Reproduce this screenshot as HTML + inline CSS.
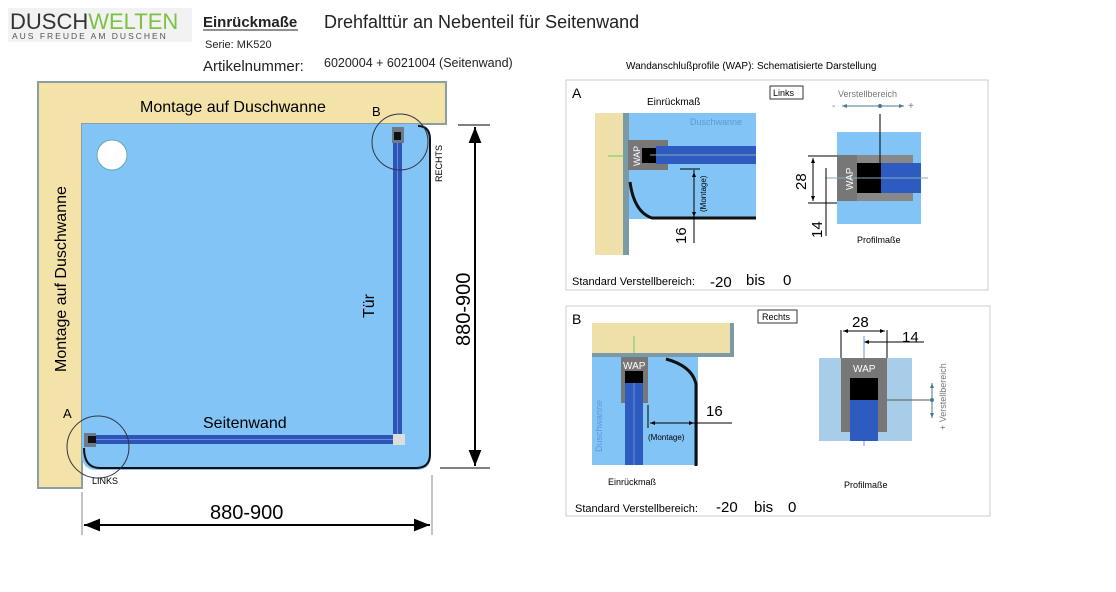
<!DOCTYPE html>
<html><head><meta charset="utf-8"><style>
body{margin:0;background:#fff;width:1116px;height:592px;overflow:hidden}
svg{display:block}
text{font-family:"Liberation Sans",sans-serif}
</style></head><body>
<svg width="1116" height="592" viewBox="0 0 1116 592">
<defs>
<marker id="ar" viewBox="0 0 10 10" refX="10" refY="5" markerWidth="10" markerHeight="8" orient="auto-start-reverse"><path d="M0,1 L10,5 L0,9 z" fill="#000"/></marker>
<marker id="as" viewBox="0 0 10 10" refX="10" refY="5" markerWidth="5" markerHeight="5" orient="auto-start-reverse"><path d="M0,1 L10,5 L0,9 z" fill="#000"/></marker>
<marker id="ag" viewBox="0 0 10 10" refX="10" refY="5" markerWidth="5" markerHeight="5" orient="auto-start-reverse"><path d="M0,1 L10,5 L0,9 z" fill="#4a7a90"/></marker>
</defs>
<!-- header -->
<rect x="8" y="8" width="184" height="34" fill="#f2f2f2"/>
<text x="10" y="29" font-size="22" fill="#333">DUSCH<tspan fill="#7cc242">WELTEN</tspan></text>
<text x="12" y="39" font-size="8.5" fill="#555" letter-spacing="2">AUS FREUDE AM DUSCHEN</text>
<text x="203" y="27" font-size="15" font-weight="bold" fill="#222">Einrückmaße</text>
<line x1="203" y1="30" x2="298" y2="30" stroke="#222"/>
<text x="324" y="28" font-size="18" fill="#222">Drehfalttür an Nebenteil für Seitenwand</text>
<text x="205" y="48" font-size="11" fill="#222">Serie: MK520</text>
<text x="203" y="71" font-size="15" fill="#222">Artikelnummer:</text>
<text x="324" y="67" font-size="12.5" fill="#222">6020004 + 6021004 (Seitenwand)</text>
<!-- wall -->
<path d="M38,82 H446 V124 H82 V488 H38 Z" fill="#f3e3a9" stroke="#8aa0a0" stroke-width="2"/>
<!-- tray -->
<path d="M82,124 H416 Q431,124 431,139 V455 Q431,470 416,470 H97 Q82,470 82,455 Z" fill="#82c4f6"/>
<path d="M84,448 Q84,468 100,468 H416 Q430,468 430,454 V140 Q430,126 418,126" fill="none" stroke="#111" stroke-width="2"/>
<circle cx="112" cy="155" r="15" fill="#fff" stroke="#6aa" />
<!-- profiles -->
<rect x="392" y="127" width="12" height="16" fill="#6d7a88"/>
<rect x="394" y="132" width="7" height="8" fill="#111"/>
<rect x="393" y="143" width="9" height="296" fill="#2d55b8"/>
<line x1="397.5" y1="143" x2="397.5" y2="438" stroke="#6a8fd8"/>
<rect x="84" y="433" width="12" height="14" fill="#6d7a88"/>
<rect x="88" y="436" width="8" height="7" fill="#111"/>
<rect x="96" y="435" width="298" height="9" fill="#2d55b8"/>
<line x1="96" y1="439.5" x2="394" y2="439.5" stroke="#6a8fd8"/>
<rect x="393" y="434" width="12" height="11" fill="#ddd"/>
<circle cx="98" cy="447" r="31" fill="none" stroke="#334" stroke-width="1"/>
<circle cx="400" cy="142" r="28" fill="none" stroke="#334" stroke-width="1"/>
<text x="63" y="418" font-size="13">A</text>
<text x="372" y="116" font-size="13">B</text>
<text x="92" y="484" font-size="9">LINKS</text>
<text transform="translate(442,182) rotate(-90)" font-size="9">RECHTS</text>
<text x="140" y="112" font-size="16">Montage auf Duschwanne</text>
<text transform="translate(66,372) rotate(-90)" font-size="16">Montage auf Duschwanne</text>
<text transform="translate(374,318) rotate(-90)" font-size="16">Tür</text>
<text x="203" y="428" font-size="16">Seitenwand</text>
<!-- dims -->
<line x1="458" y1="125" x2="490" y2="125" stroke="#000"/>
<line x1="440" y1="468" x2="490" y2="468" stroke="#000"/>
<line x1="475" y1="127" x2="475" y2="466" stroke="#000" stroke-width="2" marker-start="url(#ar)" marker-end="url(#ar)"/>
<text transform="translate(470,346) rotate(-90)" font-size="20">880-900</text>
<line x1="82" y1="492" x2="82" y2="535" stroke="#888"/>
<line x1="432" y1="475" x2="432" y2="535" stroke="#888"/>
<line x1="84" y1="525" x2="430" y2="525" stroke="#000" stroke-width="2" marker-start="url(#ar)" marker-end="url(#ar)"/>
<text x="210" y="519" font-size="20">880-900</text>
<!-- right panels -->
<text x="626" y="69" font-size="10">Wandanschlußprofile (WAP): Schematisierte Darstellung</text>
<rect x="566" y="80" width="422" height="210" fill="#fff" stroke="#ccc"/>
<text x="572" y="98" font-size="14">A</text>
<text x="647" y="105" font-size="10">Einrückmaß</text>
<rect x="770" y="86" width="33" height="13" fill="none" stroke="#333"/>
<text x="773" y="96" font-size="9">Links</text>
<rect x="595" y="113" width="33" height="142" fill="#efdfa8"/>
<rect x="623" y="113" width="6" height="142" fill="#7a9aa8"/>
<rect x="629" y="113" width="127" height="106" fill="#82c4f6"/>
<text x="690" y="125" font-size="9" fill="#5a9ad8">Duschwanne</text>
<rect x="628" y="140" width="40" height="30" fill="#777"/>
<rect x="642" y="148" width="14" height="15" fill="#000"/>
<rect x="656" y="146" width="100" height="18" fill="#2d5bbf"/>
<line x1="650" y1="155" x2="756" y2="155" stroke="#8ab"/>
<text transform="translate(640,166) rotate(-90)" font-size="9" fill="#fff">WAP</text>
<line x1="608" y1="156" x2="624" y2="156" stroke="#6c6"/>
<path d="M630,182 Q634,212 652,218 H756" fill="none" stroke="#111" stroke-width="3"/>
<line x1="680" y1="169" x2="700" y2="169" stroke="#000"/>
<line x1="694" y1="170" x2="694" y2="243" stroke="#000"/>
<line x1="694" y1="172" x2="694" y2="217" stroke="#000" marker-start="url(#as)" marker-end="url(#as)"/>
<text transform="translate(706,212) rotate(-90)" font-size="8">(Montage)</text>
<text transform="translate(686,244) rotate(-90)" font-size="15">16</text>
<text x="838" y="97" font-size="9" fill="#777">Verstellbereich</text>
<text x="832" y="109" font-size="10" fill="#777">-</text>
<text x="908" y="109" font-size="10" fill="#777">+</text>
<line x1="842" y1="106" x2="904" y2="106" stroke="#4a7a90" marker-start="url(#ag)" marker-end="url(#ag)"/>
<circle cx="880" cy="106" r="2" fill="#4a7a90"/>
<rect x="837" y="132" width="84" height="92" fill="#82c4f6"/>
<rect x="837" y="155" width="76" height="8" fill="#888"/>
<rect x="837" y="193" width="76" height="8" fill="#888"/>
<rect x="837" y="155" width="20" height="46" fill="#777"/>
<rect x="857" y="163" width="24" height="30" fill="#000"/>
<rect x="881" y="163" width="40" height="30" fill="#2d5bbf"/>
<line x1="880" y1="114" x2="880" y2="178" stroke="#000"/>
<line x1="825" y1="178" x2="928" y2="178" stroke="#8ab"/>
<text transform="translate(853,190) rotate(-90)" font-size="10" fill="#fff">WAP</text>
<line x1="808" y1="156" x2="837" y2="156" stroke="#000"/>
<line x1="808" y1="203" x2="837" y2="203" stroke="#000"/>
<line x1="813" y1="158" x2="813" y2="201" stroke="#000" marker-start="url(#as)" marker-end="url(#as)"/>
<text transform="translate(806,190) rotate(-90)" font-size="15">28</text>
<line x1="826" y1="168" x2="826" y2="236" stroke="#000"/>
<text transform="translate(822,238) rotate(-90)" font-size="15">14</text>
<text x="857" y="243" font-size="9">Profilmaße</text>
<text x="572" y="285" font-size="11">Standard Verstellbereich:</text>
<text x="710" y="287" font-size="15">-20</text><text x="746" y="285" font-size="15">bis</text><text x="783" y="285" font-size="15">0</text>

<rect x="566" y="306" width="424" height="210" fill="#fff" stroke="#ccc"/>
<text x="572" y="324" font-size="14">B</text>
<rect x="758" y="310" width="39" height="13" fill="none" stroke="#333"/>
<text x="762" y="320" font-size="9">Rechts</text>
<rect x="592" y="323" width="142" height="30" fill="#efdfa8"/>
<rect x="592" y="353" width="140" height="4" fill="#7a9aa8"/>
<rect x="730" y="323" width="4" height="34" fill="#7a9aa8"/>
<rect x="592" y="357" width="106" height="108" fill="#82c4f6"/>
<line x1="634" y1="336" x2="634" y2="353" stroke="#6c6"/>
<rect x="621" y="357" width="27" height="46" fill="#777"/>
<text x="623" y="369" font-size="10" fill="#fff">WAP</text>
<rect x="625" y="371" width="18" height="12" fill="#000"/>
<rect x="625" y="383" width="18" height="82" fill="#2d5bbf"/>
<line x1="634" y1="383" x2="634" y2="465" stroke="#6a8fd8"/>
<text transform="translate(602,452) rotate(-90)" font-size="9" fill="#5a9ad8">Duschwanne</text>
<path d="M666,359 Q692,366 696,384 V466" fill="none" stroke="#111" stroke-width="3"/>
<line x1="648" y1="405" x2="648" y2="428" stroke="#000"/>
<line x1="650" y1="423" x2="694" y2="423" stroke="#000" marker-start="url(#as)" marker-end="url(#as)"/>
<line x1="694" y1="423" x2="732" y2="423" stroke="#000"/>
<text x="648" y="440" font-size="8">(Montage)</text>
<text x="706" y="416" font-size="15">16</text>
<text x="608" y="485" font-size="9">Einrückmaß</text>
<text x="852" y="327" font-size="15">28</text>
<text x="902" y="342" font-size="15">14</text>
<line x1="841" y1="330" x2="841" y2="358" stroke="#000"/>
<line x1="887" y1="330" x2="887" y2="358" stroke="#000"/>
<line x1="843" y1="331" x2="885" y2="331" stroke="#000" marker-start="url(#as)" marker-end="url(#as)"/>
<line x1="864" y1="342" x2="924" y2="342" stroke="#000" marker-start="url(#as)"/>
<line x1="864" y1="336" x2="864" y2="446" stroke="#6a8fd8"/>
<rect x="819" y="358" width="93" height="83" fill="#a7cde8"/>
<rect x="841" y="358" width="46" height="74" fill="#777"/>
<text x="853" y="372" font-size="10" fill="#fff">WAP</text>
<rect x="850" y="378" width="28" height="22" fill="#000"/>
<rect x="850" y="400" width="28" height="41" fill="#2d5bbf"/>
<line x1="887" y1="400" x2="930" y2="400" stroke="#555"/>
<line x1="932" y1="383" x2="932" y2="418" stroke="#4a7a90" marker-start="url(#ag)" marker-end="url(#ag)"/>
<circle cx="932" cy="400" r="2" fill="#4a7a90"/>
<text transform="translate(946,430) rotate(-90)" font-size="9" fill="#777">+  Verstellbereich</text>
<text x="844" y="488" font-size="9">Profilmaße</text>
<text x="575" y="512" font-size="11">Standard Verstellbereich:</text>
<text x="716" y="512" font-size="15">-20</text><text x="754" y="512" font-size="15">bis</text><text x="788" y="512" font-size="15">0</text>
</svg>
</body></html>
